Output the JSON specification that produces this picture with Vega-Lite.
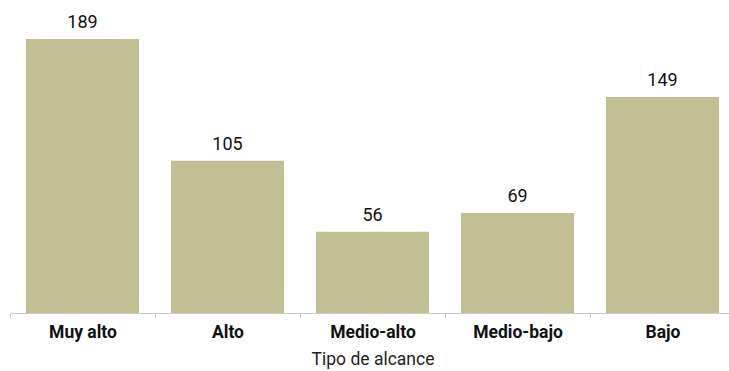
{
  "$schema": "https://vega.github.io/schema/vega-lite/v6.json",
  "width": 725,
  "height": 274,
  "autosize": "none",
  "padding": {"left": 10, "top": 39, "right": 0, "bottom": 58},
  "config": {"view": {"stroke": null}, "font": "Roboto"},
  "data": {"values": [
    {"tipo": "Muy alto", "n": 189},
    {"tipo": "Alto", "n": 105},
    {"tipo": "Medio-alto", "n": 56},
    {"tipo": "Medio-bajo", "n": 69},
    {"tipo": "Bajo", "n": 149}
  ]},
  "encoding": {
    "x": {
      "field": "tipo", "type": "nominal", "sort": null,
      "scale": {"paddingInner": 0, "paddingOuter": 0},
      "axis": {
        "title": "Tipo de alcance", "titleFontSize": 17.5, "titleFontWeight": "normal", "titleColor": "#222",
        "titlePadding": 10,
        "labelAngle": 0, "labelFontSize": 17.5, "labelFontWeight": "bold", "labelColor": "#111",
        "labelPadding": 5,
        "tickBand": "extent", "domainColor": "#cccccc", "tickColor": "#cccccc", "tickSize": 5
      }
    },
    "y": {"field": "n", "type": "quantitative", "scale": {"domain": [0, 189], "nice": false}, "axis": null}
  },
  "layer": [
    {"mark": {"type": "bar", "color": "#C2BF95", "width": {"band": 0.78}}},
    {"mark": {"type": "text", "baseline": "alphabetic", "dy": -11, "fontSize": 18, "color": "#111"},
     "encoding": {"text": {"field": "n", "type": "quantitative"}}}
  ]
}
